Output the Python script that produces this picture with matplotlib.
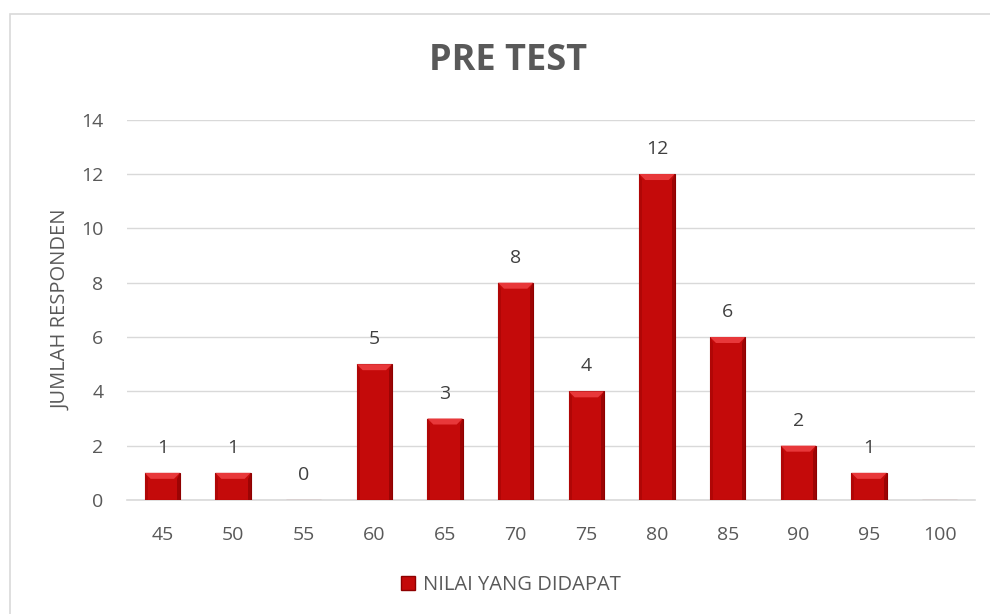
import matplotlib.pyplot as plt
from matplotlib.patches import Polygon, Rectangle

plt.rcParams["font.family"] = ["Open Sans", "DejaVu Sans"]

categories = ["45", "50", "55", "60", "65", "70", "75", "80", "85", "90", "95", "100"]
counts = [1, 1, 0, 5, 3, 8, 4, 12, 6, 2, 1, None]
series_name = "NILAI YANG DIDAPAT"
title = "PRE TEST"
y_label = "JUMLAH RESPONDEN"
y_ticks = [0, 2, 4, 6, 8, 10, 12, 14]

W, H = 990, 614
fig = plt.figure(figsize=(W / 100, H / 100), dpi=100)
ax = fig.add_axes([127 / W, (H - 500) / H, (975 - 127) / W, (500 - 119.7) / H])

# chart border
fig.patches.append(Rectangle((10 / W, -0.1), 1.2, (H - 14) / H + 0.1,
                             transform=fig.transFigure, fill=False,
                             edgecolor="#D9D9D9", linewidth=1.2))

x = list(range(len(categories)))
vals = [v if v is not None else 0 for v in counts]
bars = ax.bar(x, vals, width=0.5, color="#C40A0A", edgecolor="#8E0000",
              linewidth=0.8, zorder=3)

# fake bevel on top and sides of each bar
px_x = 1 / 70.7
px_y = 14 / 380.3
for b in bars:
    h = b.get_height()
    if h <= 0:
        continue
    x0 = b.get_x()
    x1 = x0 + b.get_width()
    dx = 6 * px_x
    dy = min(6 * px_y, h / 2)
    ax.add_patch(Polygon([(x0, h), (x1, h), (x1 - dx, h - dy), (x0 + dx, h - dy)],
                         closed=True, facecolor="#E8383A", edgecolor="none", zorder=4))
    ax.add_patch(Polygon([(x1, h), (x1, 0), (x1 - 3 * px_x, 0), (x1 - 3 * px_x, h - dy)],
                         closed=True, facecolor="#9C0404", edgecolor="none", zorder=4))
    ax.add_patch(Polygon([(x0, h), (x0, 0), (x0 + 3 * px_x, 0), (x0 + 3 * px_x, h - dy)],
                         closed=True, facecolor="#B00606", edgecolor="none", zorder=4))

for xi, v in zip(x, counts):
    if v is None:
        continue
    ax.annotate(str(v), (xi, v), xytext=(0, 11.5), textcoords="offset points",
                ha="center", va="bottom", fontsize=14, color="#404040")

ax.set_xlim(-0.5, len(categories) - 0.5)
ax.set_ylim(0, 14)
ax.set_yticks(y_ticks)
ax.set_xticks(x)
ax.set_xticklabels(categories)
ax.tick_params(axis="both", length=0, labelsize=14, labelcolor="#595959")
ax.tick_params(axis="y", pad=17)
ax.tick_params(axis="x", pad=19)
ax.grid(axis="y", color="#D9D9D9", linewidth=1, zorder=0)
ax.set_axisbelow(True)
for s in ["top", "right", "left"]:
    ax.spines[s].set_visible(False)
ax.spines["bottom"].set_color("#D9D9D9")
ax.spines["bottom"].set_linewidth(1.2)

ax.set_ylabel(y_label, fontsize=14.5, color="#595959", labelpad=7)
fig.text(508 / W, 1 - 61 / H, title, ha="center", va="center", fontsize=26,
         fontweight="bold", color="#595959")

leg = fig.legend([Rectangle((0, 0), 1, 1, facecolor="#C40A0A", edgecolor="#8E0000")],
                 [series_name], loc="center", bbox_to_anchor=(511 / W, 1 - 585 / H),
                 frameon=False, fontsize=14.5, handlelength=0.7, handleheight=0.7,
                 handletextpad=0.4, labelcolor="#595959")

fig.savefig("out.png", dpi=100, facecolor="white")
